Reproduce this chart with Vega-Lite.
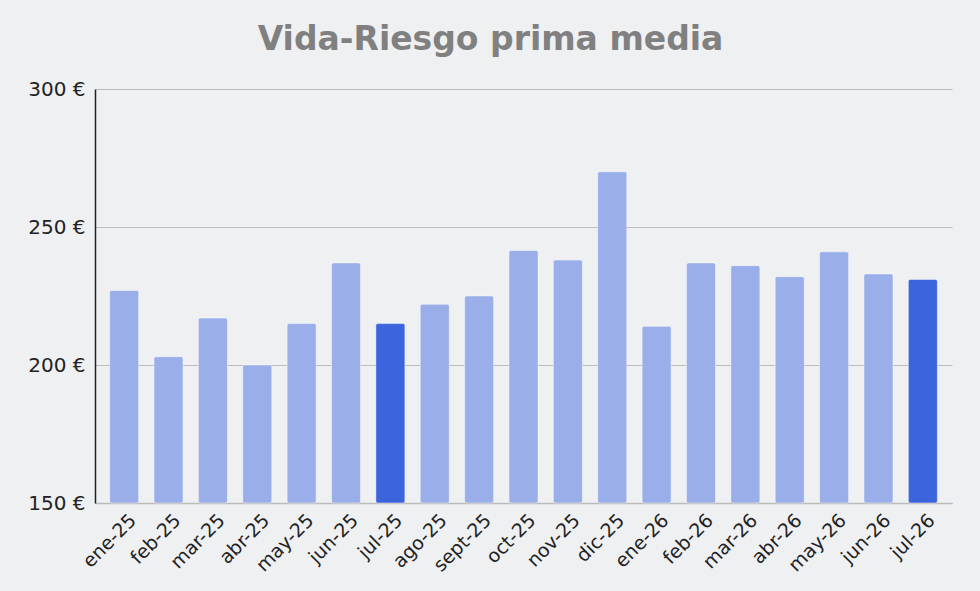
{
  "$schema": "https://vega.github.io/schema/vega-lite/v6.json",
  "autosize": "none",
  "width": 857,
  "height": 414,
  "padding": {"left": 95, "top": 89, "right": 28, "bottom": 88},
  "background": "#eff0f2",
  "title": {
    "text": "Vida-Riesgo prima media",
    "font": "DejaVu Sans",
    "fontSize": 33,
    "fontWeight": "bold",
    "color": "#808080",
    "anchor": "middle",
    "frame": "group",
    "dx": -33,
    "offset": 22
  },
  "data": {
    "values": [
      {"mes": "ene-25", "prima": 227, "actual": "no"},
      {"mes": "feb-25", "prima": 203, "actual": "no"},
      {"mes": "mar-25", "prima": 217, "actual": "no"},
      {"mes": "abr-25", "prima": 200, "actual": "no"},
      {"mes": "may-25", "prima": 215, "actual": "no"},
      {"mes": "jun-25", "prima": 237, "actual": "no"},
      {"mes": "jul-25", "prima": 215, "actual": "si"},
      {"mes": "ago-25", "prima": 222, "actual": "no"},
      {"mes": "sept-25", "prima": 225, "actual": "no"},
      {"mes": "oct-25", "prima": 241.5, "actual": "no"},
      {"mes": "nov-25", "prima": 238, "actual": "no"},
      {"mes": "dic-25", "prima": 270, "actual": "no"},
      {"mes": "ene-26", "prima": 214, "actual": "no"},
      {"mes": "feb-26", "prima": 237, "actual": "no"},
      {"mes": "mar-26", "prima": 236, "actual": "no"},
      {"mes": "abr-26", "prima": 232, "actual": "no"},
      {"mes": "may-26", "prima": 241, "actual": "no"},
      {"mes": "jun-26", "prima": 233, "actual": "no"},
      {"mes": "jul-26", "prima": 231, "actual": "si"}
    ]
  },
  "mark": {
    "type": "bar",
    "cornerRadius": 2,
    "stroke": "#ffffff",
    "strokeOpacity": 0.45,
    "strokeWidth": 1
  },
  "encoding": {
    "x": {
      "field": "mes",
      "type": "nominal",
      "sort": null,
      "title": null,
      "scale": {"paddingInner": 0.346, "paddingOuter": 0.33},
      "axis": {
        "labelAngle": -45,
        "labelAlign": "right",
        "labelBaseline": "middle",
        "labelFont": "DejaVu Sans",
        "labelFontSize": 19,
        "labelColor": "#222222",
        "labelPadding": 14,
        "labelOffset": 9,
        "ticks": false,
        "domainColor": "#bbbbbb",
        "domainWidth": 1.5
      }
    },
    "y": {
      "field": "prima",
      "type": "quantitative",
      "title": null,
      "scale": {"domain": [150, 300], "nice": false, "zero": false},
      "axis": {
        "values": [150, 200, 250, 300],
        "labelExpr": "datum.value + ' €'",
        "labelFont": "DejaVu Sans",
        "labelFontSize": 20,
        "labelColor": "#222222",
        "labelPadding": 10,
        "ticks": false,
        "domainColor": "#222222",
        "domainWidth": 1.5,
        "gridColor": "#bdbdbd",
        "gridWidth": 1.2
      }
    },
    "y2": {"datum": 150},
    "fill": {
      "field": "actual",
      "type": "nominal",
      "scale": {"domain": ["no", "si"], "range": ["#9aaeea", "#3c64dc"]},
      "legend": null
    }
  },
  "config": {"view": {"stroke": null}}
}
